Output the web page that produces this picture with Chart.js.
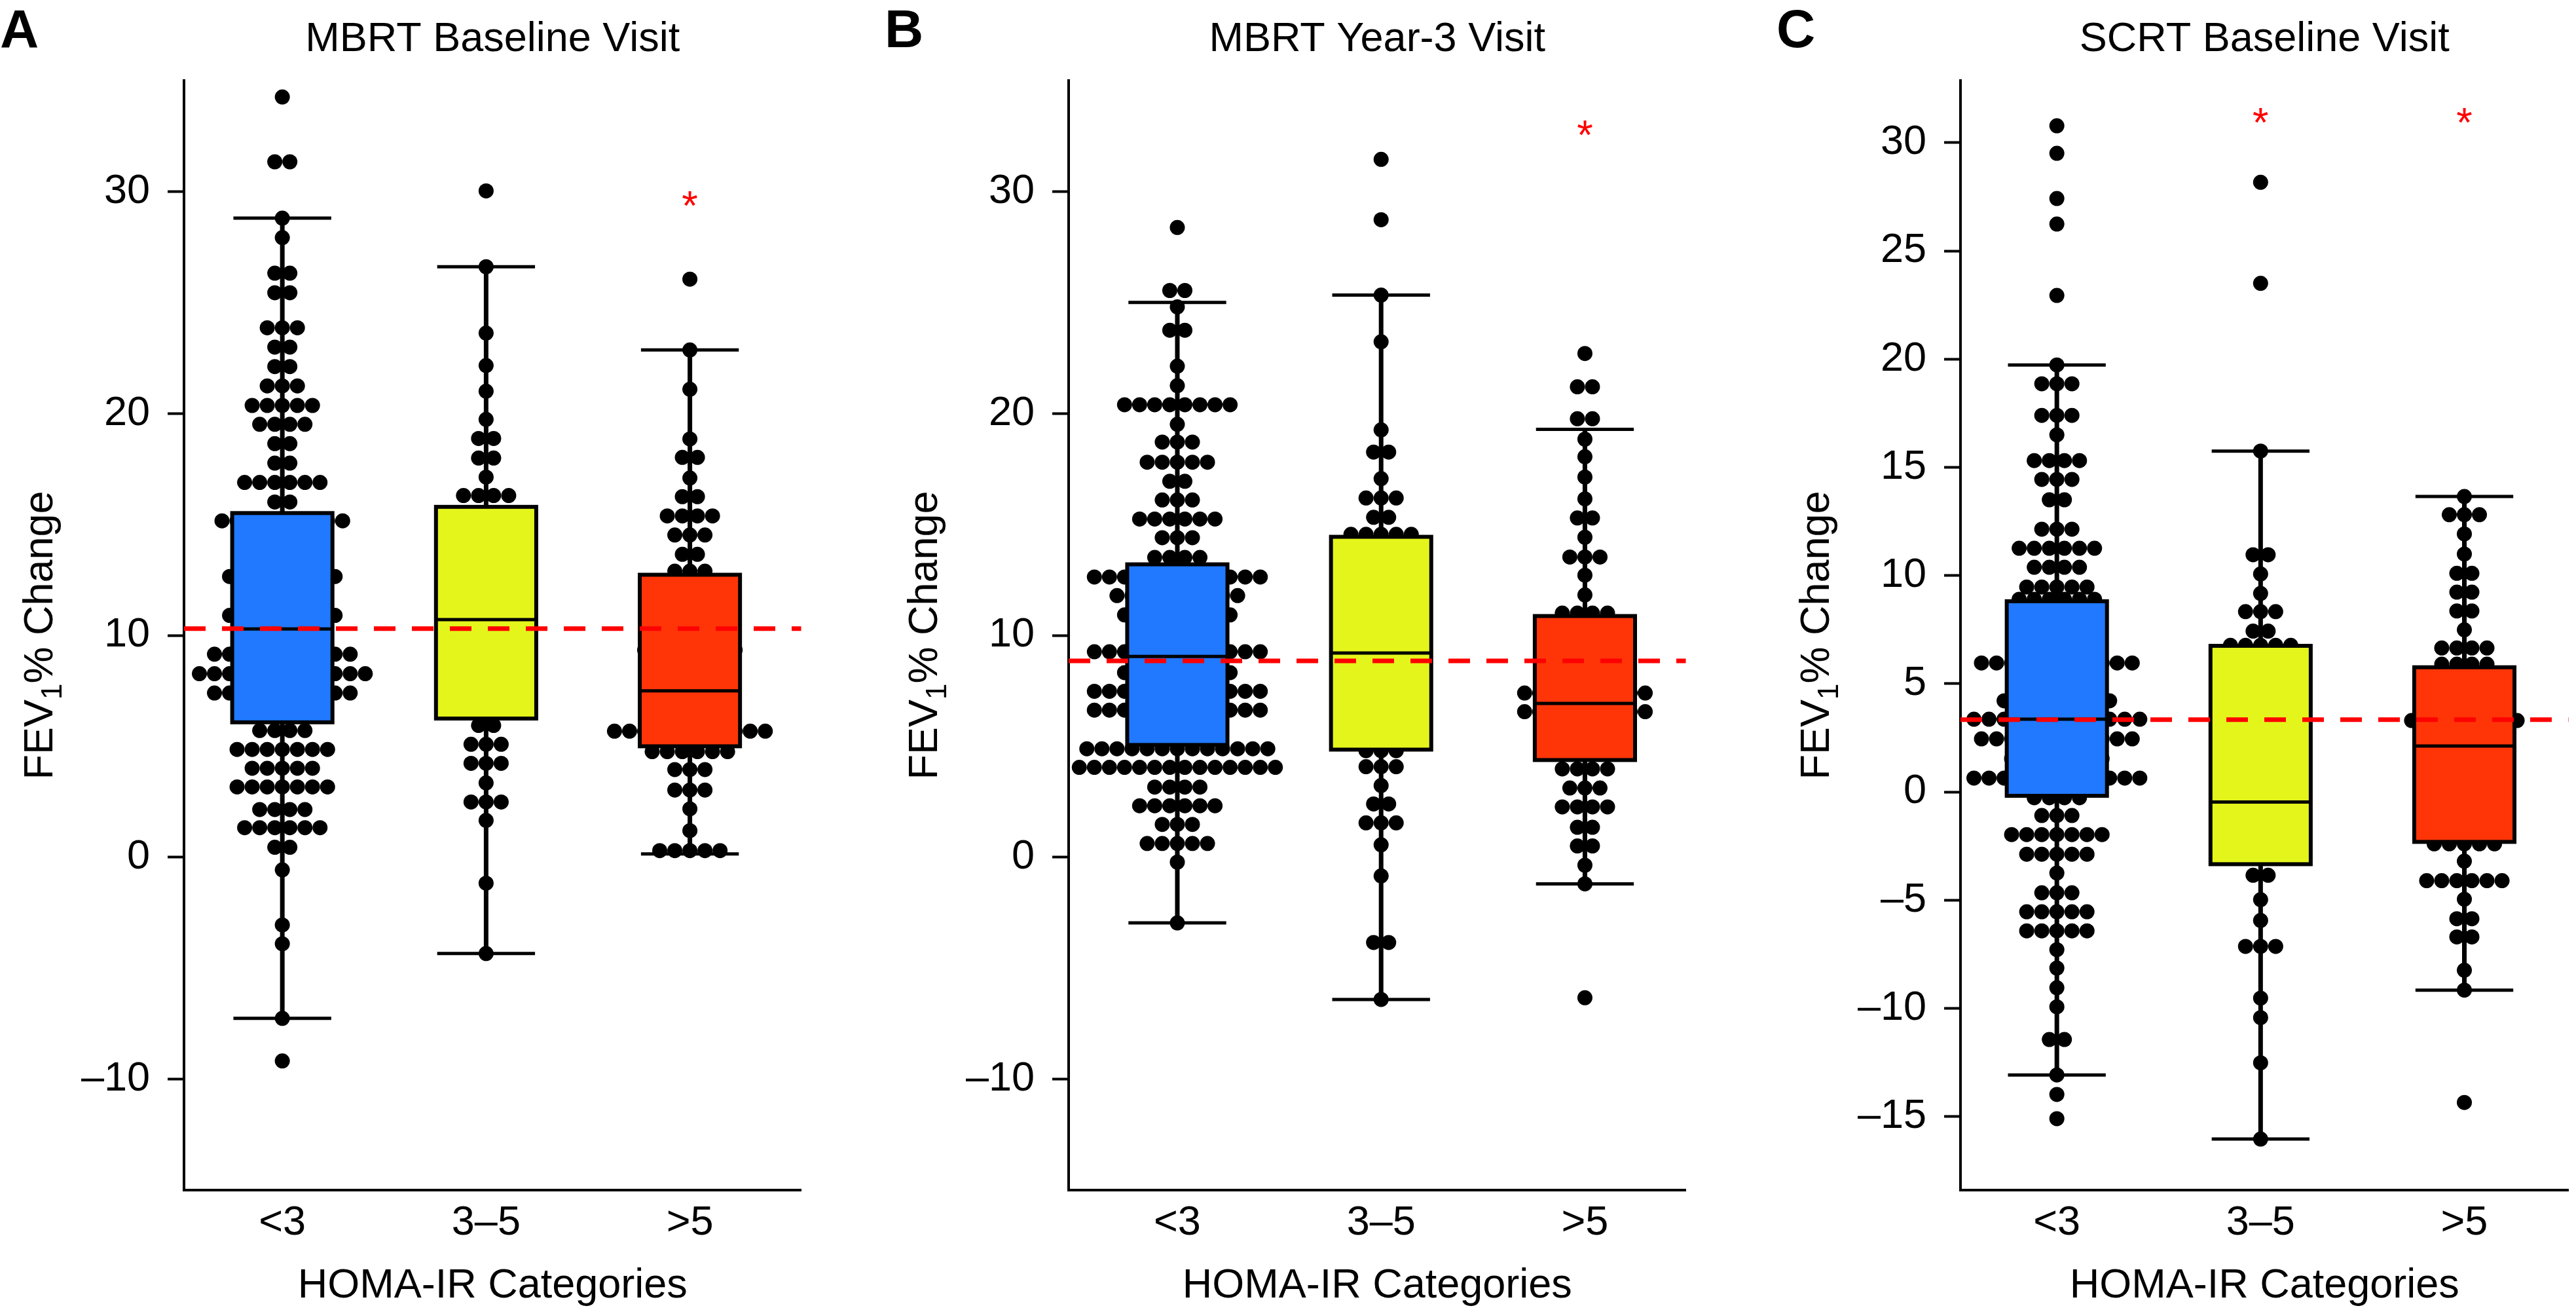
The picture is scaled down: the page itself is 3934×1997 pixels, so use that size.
<!DOCTYPE html>
<html>
<head>
<meta charset="utf-8">
<script src="https://cdn.jsdelivr.net/npm/chart.js@4.4.0/dist/chart.umd.min.js"></script>
<style>
  html, body { margin: 0; padding: 0; background: #fff; }
  body { width: 3934px; height: 1997px; position: relative; overflow: hidden; }
  canvas { position: absolute; top: 0; }
</style>
</head>
<body>
<canvas id="chartA" width="1235" height="1997" style="left:0px"></canvas>
<canvas id="chartB" width="1235" height="1997" style="left:1351px"></canvas>
<canvas id="chartC" width="1221" height="1997" style="left:2713px"></canvas>
<script>
const categories = ["<3", "3–5", ">5"];
const panelLetters = ["A", "B", "C"];
const panelTitles = ["MBRT Baseline Visit", "MBRT Year-3 Visit", "SCRT Baseline Visit"];
const yTicksAB = [-10, 0, 10, 20, 30];
const yTicksC = [-15, -10, -5, 0, 5, 10, 15, 20, 25, 30];

// dot rows: [FEV1 % change, number of dots in that row]
const mbrtBaseLow = [[34.26,1],[31.34,2],[28.8,1],[27.92,1],[26.32,2],[25.44,2],[23.86,3],[22.99,2],[22.11,2],[21.24,3],[20.36,5],[19.51,4],[18.64,2],[17.76,2],[16.89,6],[16.01,2],[15.16,9],[12.65,8],[10.9,8],[9.15,10],[8.27,12],[7.4,10],[5.71,4],[4.86,7],[4.01,5],[3.17,7],[2.15,4],[1.33,6],[0.45,2],[-0.57,1],[-3.05,1],[-3.9,1],[-7.26,1],[-9.18,1]];
const mbrtBaseMid = [[30.03,1],[26.61,1],[23.62,1],[22.16,1],[21.0,1],[19.73,1],[18.87,2],[17.99,2],[17.13,1],[16.3,4],[5.94,2],[5.09,3],[4.23,3],[3.35,1],[2.49,3],[1.66,1],[-1.17,1],[-4.34,1]];
const mbrtBaseHigh = [[26.05,1],[22.86,1],[21.09,1],[18.85,1],[18.02,2],[17.09,1],[16.25,2],[15.38,4],[14.52,3],[13.65,2],[12.89,3],[9.34,7],[5.68,11],[4.76,6],[3.95,3],[3.03,3],[2.18,1],[1.2,1],[0.3,5]];

const mbrtY3Low = [[28.38,1],[25.54,2],[24.8,1],[23.75,2],[22.13,1],[21.25,1],[20.39,8],[19.51,1],[18.71,3],[17.8,5],[16.94,2],[16.1,3],[15.24,6],[14.4,3],[13.51,4],[12.63,12],[11.79,9],[10.92,8],[9.26,12],[8.32,8],[7.48,12],[6.63,12],[4.89,13],[4.05,14],[3.16,4],[2.32,6],[1.48,3],[0.62,5],[-0.22,1],[-2.96,1]];
const mbrtY3Mid = [[31.45,1],[28.73,1],[25.33,1],[23.23,1],[19.26,1],[18.26,2],[17.06,1],[16.19,3],[15.32,2],[14.55,5],[4.8,3],[4.08,3],[3.23,1],[2.4,2],[1.55,3],[0.56,1],[-0.84,1],[-3.84,2],[-6.41,1]];
const mbrtY3High = [[22.7,1],[21.2,2],[19.76,2],[18.84,1],[18.05,1],[17.13,1],[16.15,1],[15.29,2],[14.42,1],[13.53,3],[12.71,1],[11.82,1],[11.0,4],[7.4,9],[6.56,9],[3.98,4],[3.12,3],[2.27,4],[1.35,2],[0.51,2],[-0.36,1],[-1.2,1],[-6.33,1]];

const scrtBaseLow = [[30.78,1],[29.51,1],[27.42,1],[26.24,1],[22.94,1],[19.73,1],[18.86,3],[17.4,3],[16.5,1],[15.31,4],[14.44,3],[13.5,2],[12.14,3],[11.26,6],[10.38,4],[9.47,5],[8.9,6],[5.96,11],[4.21,8],[3.36,12],[2.45,11],[1.54,7],[0.64,12],[-0.27,4],[-1.09,3],[-1.97,7],[-2.88,5],[-3.75,1],[-4.66,3],[-5.54,5],[-6.42,5],[-7.29,1],[-8.14,1],[-9.05,1],[-9.93,1],[-11.44,2],[-13.08,1],[-13.98,1],[-15.1,1]];
const scrtBaseMid = [[28.17,1],[23.5,1],[15.75,1],[10.96,2],[10.07,1],[9.17,1],[8.33,3],[7.43,2],[6.77,5],[-3.85,2],[-4.98,1],[-5.94,1],[-7.14,3],[-9.53,1],[-10.43,1],[-12.52,1],[-16.04,1]];
const scrtBaseHigh = [[13.65,1],[12.81,3],[11.92,1],[10.99,1],[10.1,2],[9.23,2],[8.36,2],[7.49,1],[6.65,4],[5.9,4],[3.3,8],[-2.4,5],[-3.2,1],[-4.1,6],[-4.96,1],[-5.86,2],[-6.7,2],[-8.24,1],[-9.16,1],[-14.35,1]];

// box stats per category: [lower whisker, Q1, median, Q3, upper whisker]
const mbrtBaseBoxes = [[-7.26, 6.08, 10.29, 15.51, 28.8], [-4.34, 6.25, 10.71, 15.79, 26.61], [0.15, 5.0, 7.5, 12.73, 22.86]];
const mbrtY3Boxes = [[-2.96, 5.06, 9.05, 13.2, 25.0], [-6.41, 4.85, 9.2, 14.44, 25.33], [-1.2, 4.38, 6.93, 10.87, 19.28]];
const scrtBaseBoxes = [[-13.08, -0.18, 3.36, 8.81, 19.73], [-16.04, -3.34, -0.47, 6.75, 15.75], [-9.16, -2.31, 2.12, 5.76, 13.65]];

const meanLines = [10.3, 8.85, 3.34];
const starCats = [[3], [3], [2, 3]];
const starValues = [29.8, 33.0, 31.4];

const boxColors = ["#2079ff", "#e4f51b", "#ff3508"];
const FONT = "'Liberation Sans', Arial, Helvetica, sans-serif";
const DOT_STEP = 0.074;
const BOX_HALF = 0.246;
const CAP_HALF = 0.24;

function line(ctx, x1, y1, x2, y2) {
  ctx.beginPath();
  ctx.moveTo(x1, y1);
  ctx.lineTo(x2, y2);
  ctx.stroke();
}

const boxPlugin = {
  id: "boxes",
  afterDatasetsDraw(chart) {
    const { ctx, chartArea } = chart;
    const x = chart.scales.x, y = chart.scales.y;
    const o = chart.options.plugins.boxes;
    ctx.save();
    ctx.lineCap = "butt";
    o.boxes.forEach((b, i) => {
      const cx = x.getPixelForValue(i + 1);
      const hw = x.getPixelForValue(i + 1 + BOX_HALF) - cx;
      const cw = x.getPixelForValue(i + 1 + CAP_HALF) - cx;
      const [lo, q1, med, q3, hi] = b.map(v => y.getPixelForValue(v));
      ctx.strokeStyle = "#000";
      ctx.lineWidth = 7;
      line(ctx, cx, hi, cx, q3);
      line(ctx, cx, q1, cx, lo);
      ctx.lineWidth = 5;
      line(ctx, cx - cw, hi, cx + cw, hi);
      line(ctx, cx - cw, lo, cx + cw, lo);
      ctx.fillStyle = boxColors[i];
      ctx.fillRect(cx - hw, q3, 2 * hw, q1 - q3);
      ctx.lineWidth = 6;
      ctx.strokeRect(cx - hw, q3, 2 * hw, q1 - q3);
      ctx.lineWidth = 5;
      line(ctx, cx - hw, med, cx + hw, med);
    });
    // mean of all subjects
    const my = y.getPixelForValue(o.mean);
    ctx.strokeStyle = "#ff0000";
    ctx.lineWidth = 7;
    ctx.setLineDash([33, 25]);
    line(ctx, chartArea.left, my, chartArea.right, my);
    ctx.setLineDash([]);
    // significance stars
    ctx.fillStyle = "#ff0000";
    ctx.font = "63px " + FONT;
    ctx.textAlign = "center";
    ctx.textBaseline = "alphabetic";
    o.stars.forEach(c => {
      ctx.fillText("*", x.getPixelForValue(c), y.getPixelForValue(o.starValue) + 36);
    });
    ctx.restore();
  },
  afterDraw(chart) {
    const { ctx, chartArea } = chart;
    const o = chart.options.plugins.boxes;
    const mid = (chartArea.left + chartArea.right) / 2;
    ctx.save();
    ctx.fillStyle = "#000";
    ctx.textBaseline = "alphabetic";
    ctx.font = "bold 82px " + FONT;
    ctx.textAlign = "left";
    ctx.fillText(o.letter, 0, 72);
    ctx.font = "63px " + FONT;
    ctx.textAlign = "center";
    ctx.fillText(o.title, mid, 78);
    ctx.fillText("HOMA-IR Categories", mid, 1981);
    // y title with subscript 1
    const big = "63px " + FONT, small = "44px " + FONT;
    ctx.font = big;
    const w1 = ctx.measureText("FEV").width;
    const w3 = ctx.measureText("% Change").width;
    ctx.font = small;
    const w2 = ctx.measureText("1").width;
    const total = w1 + w2 + w3;
    ctx.translate(80, (chartArea.top + chartArea.bottom) / 2);
    ctx.rotate(-Math.PI / 2);
    ctx.textAlign = "left";
    let px = -total / 2;
    ctx.font = big;
    ctx.fillText("FEV", px, 0);
    px += w1;
    ctx.font = small;
    ctx.fillText("1", px, 14);
    px += w2;
    ctx.font = big;
    ctx.fillText("% Change", px, 0);
    ctx.restore();
  }
};

function makeChart(id, idx, groups, boxes, yTicks, yMin, yMax, xMin, xMax) {
  const pts = [];
  groups.forEach((rows, g) => {
    rows.forEach(([v, n]) => {
      for (let i = 0; i < n; i++) {
        pts.push({ x: g + 1 + (i - (n - 1) / 2) * DOT_STEP, y: v });
      }
    });
  });
  return new Chart(document.getElementById(id), {
    type: "scatter",
    data: {
      datasets: [{
        data: pts,
        pointRadius: 11.5,
        pointHoverRadius: 11.5,
        backgroundColor: "#000",
        borderColor: "#000",
        borderWidth: 0
      }]
    },
    options: {
      responsive: false,
      animation: false,
      events: [],
      layout: { padding: { top: 123, left: 0, right: 0, bottom: 0 } },
      plugins: {
        legend: { display: false },
        tooltip: { enabled: false },
        boxes: {
          boxes: boxes,
          mean: meanLines[idx],
          stars: starCats[idx],
          starValue: starValues[idx],
          letter: panelLetters[idx],
          title: panelTitles[idx]
        }
      },
      scales: {
        x: {
          type: "linear",
          min: xMin,
          max: xMax,
          afterBuildTicks: s => { s.ticks = [1, 2, 3].map(v => ({ value: v })); },
          afterFit: s => { s.height = 180; },
          ticks: {
            callback: v => categories[v - 1],
            font: { family: FONT, size: 63 },
            color: "#000",
            padding: 13,
            maxRotation: 0,
            autoSkip: false
          },
          grid: { display: true, drawOnChartArea: false, drawTicks: false },
          border: { display: true, color: "#000", width: 4 }
        },
        y: {
          min: yMin,
          max: yMax,
          afterBuildTicks: s => { s.ticks = yTicks.map(v => ({ value: v })); },
          afterFit: s => { s.width = 281; },
          ticks: {
            callback: v => (v < 0 ? "\u2013" + (-v) : String(v)),
            font: { family: FONT, size: 63 },
            color: "#000",
            padding: 27
          },
          grid: { display: true, drawOnChartArea: false, drawTicks: true, tickLength: 25, tickWidth: 4, tickColor: "#000" },
          border: { display: true, color: "#000", width: 4 }
        }
      }
    },
    plugins: [boxPlugin]
  });
}

makeChart("chartA", 0, [mbrtBaseLow, mbrtBaseMid, mbrtBaseHigh], mbrtBaseBoxes, yTicksAB, -15, 35, 0.5175, 3.546);
makeChart("chartB", 1, [mbrtY3Low, mbrtY3Mid, mbrtY3High], mbrtY3Boxes, yTicksAB, -15, 35, 0.4667, 3.495);
makeChart("chartC", 2, [scrtBaseLow, scrtBaseMid, scrtBaseHigh], scrtBaseBoxes, yTicksC, -18.4, 32.87, 0.527, 3.511);
</script>
</body>
</html>
